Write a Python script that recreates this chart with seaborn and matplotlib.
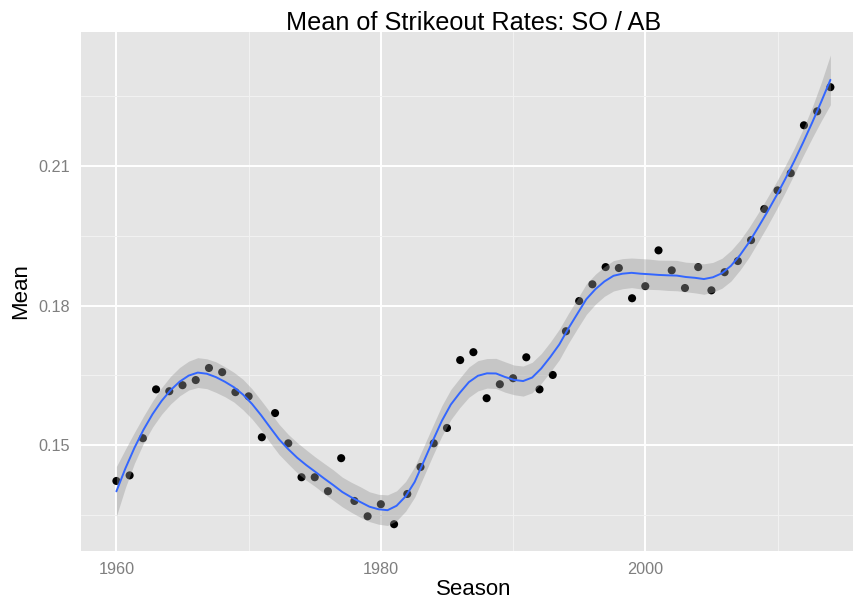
import numpy as np
import pandas as pd
import matplotlib
matplotlib.use("Agg")
import matplotlib.pyplot as plt
import seaborn as sns

# ---- data ----
seasons = list(range(1960, 2015))
mean_rate = [
    0.1423, 0.1435, 0.1515, 0.1620, 0.1616, 0.1629, 0.1640, 0.1666, 0.1657, 0.1614,
    0.1605, 0.1517, 0.1569, 0.1504, 0.1431, 0.1431, 0.1401, 0.1472, 0.1380, 0.1347,
    0.1373, 0.1330, 0.1395, 0.1453, 0.1504, 0.1537, 0.1683, 0.1700, 0.1601, 0.1631,
    0.1644, 0.1689, 0.1620, 0.1651, 0.1745, 0.1810, 0.1846, 0.1883, 0.1881, 0.1816,
    0.1842, 0.1919, 0.1876, 0.1838, 0.1883, 0.1833, 0.1872, 0.1896, 0.1941, 0.2008,
    0.2048, 0.2085, 0.2188, 0.2218, 0.2270,
]
x_ticks = [1960, 1980, 2000]
y_ticks = [0.15, 0.18, 0.21]
y_tick_labels = ["0.15", "0.18", "0.21"]

df = pd.DataFrame({"Season": seasons, "Mean": mean_rate})


# ---- loess smoother (local quadratic, tricube weights) ----
def loess_fit(x, y, xs, span=0.3, degree=2):
    x = np.asarray(x, float)
    y = np.asarray(y, float)
    n = len(x)
    q = int(np.floor(n * span))
    xc = x.mean()

    def hat_row(x0):
        d = np.abs(x - x0)
        h = np.sort(d)[q - 1]
        w = np.clip(1 - (d / h) ** 3, 0, None) ** 3
        X = np.vander(x - xc, degree + 1, increasing=True)
        x0v = np.vander(np.array([x0 - xc]), degree + 1, increasing=True)[0]
        XtW = X.T * w
        beta_op = np.linalg.solve(XtW @ X, XtW)
        return x0v @ beta_op

    L = np.array([hat_row(v) for v in x])
    resid = y - L @ y
    IL = np.eye(n) - L
    M = IL.T @ IL
    delta1 = np.trace(M)
    sigma = np.sqrt(np.sum(resid ** 2) / delta1)
    rows = np.array([hat_row(v) for v in xs])
    fit = rows @ y
    se = sigma * np.sqrt(np.sum(rows ** 2, axis=1))
    return fit, se


xs = np.linspace(min(seasons), max(seasons), 80)
fit, se = loess_fit(seasons, mean_rate, xs, span=0.27)
tval = 2.02
smooth = pd.DataFrame({"Season": xs, "fit": fit, "lo": fit - tval * se, "hi": fit + tval * se})

# ---- styling ----
sns.set_style("darkgrid", {
    "axes.facecolor": "#E5E5E5",
    "grid.color": "white",
    "axes.edgecolor": "#E5E5E5",
})
plt.rcParams["font.family"] = ["Liberation Sans", "DejaVu Sans"]

fig = plt.figure(figsize=(8.54, 6.0), dpi=100)
ax = fig.add_axes([80.7 / 854, 1 - 550.7 / 600, (866.1 - 80.7) / 854, (550.7 - 32.3) / 600])

sns.scatterplot(data=df, x="Season", y="Mean", ax=ax, color="black", s=34,
                edgecolor="none", zorder=3)
ax.fill_between(smooth["Season"], smooth["lo"], smooth["hi"], color="#999999",
                alpha=0.4, linewidth=0, zorder=4)
sns.lineplot(data=smooth, x="Season", y="fit", ax=ax, color="#3366FF", linewidth=1.4,
             zorder=5)

ax.set_xlim(1957.3, 2016.7)
ax.set_ylim(0.1273, 0.2388)
ax.set_xticks(x_ticks)
ax.set_yticks(y_ticks)
ax.set_yticklabels(y_tick_labels)
ax.set_xticks([1970, 1990, 2010], minor=True)
ax.set_yticks([0.135, 0.165, 0.195, 0.225], minor=True)
ax.grid(which="major", color="white", linewidth=1.4)
ax.grid(which="minor", color="#F2F2F2", linewidth=0.7)
ax.set_axisbelow(True)
for sp in ax.spines.values():
    sp.set_visible(False)

ax.tick_params(axis="both", which="major", length=4.5, width=1.0, color="#7F7F7F",
               labelcolor="#7F7F7F", labelsize=11.7, pad=3.5)
ax.tick_params(axis="both", which="minor", length=0)

ax.set_xlabel("Season", fontsize=16, color="black", labelpad=1.5)
ax.set_ylabel("Mean", fontsize=16, color="black", labelpad=5)
ax.set_title("Mean of Strikeout Rates: SO / AB", fontsize=18.2, color="black", pad=2)

fig.savefig("out.png", dpi=100)
